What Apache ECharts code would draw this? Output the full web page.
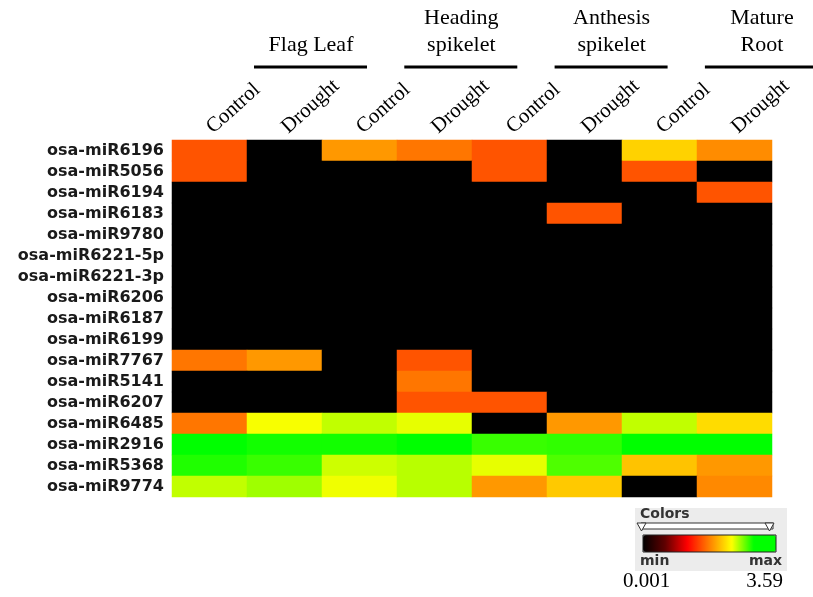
<!DOCTYPE html>
<html>
<head>
<meta charset="utf-8">
<script src="https://cdn.jsdelivr.net/npm/echarts@6/dist/echarts.min.js"></script>
<style>
  html, body { margin: 0; padding: 0; background: #ffffff; }
  #main { width: 813px; height: 597px; }
</style>
</head>
<body>
<div id="main"></div>
<script>
// column labels (two per tissue), tissue groups and row names
const conditions = ["Control", "Drought", "Control", "Drought", "Control", "Drought", "Control", "Drought"];
const tissues = ["Flag Leaf", "Heading\nspikelet", "Anthesis\nspikelet", "Mature\nRoot"];
const mirnas = [
  "osa-miR6196", "osa-miR5056", "osa-miR6194", "osa-miR6183", "osa-miR9780",
  "osa-miR6221-5p", "osa-miR6221-3p", "osa-miR6206", "osa-miR6187", "osa-miR6199",
  "osa-miR7767", "osa-miR5141", "osa-miR6207", "osa-miR6485", "osa-miR2916",
  "osa-miR5368", "osa-miR9774"
];

const minVal = 0.001;
const maxVal = 3.59;
const Z = minVal;

// expression per miRNA, in column order above
const expr = [
  [1.59, Z, 1.91, 1.75, 1.59, Z, 2.18, 1.85],
  [1.59, Z, Z, Z, 1.59, Z, 1.59, Z],
  [Z, Z, Z, Z, Z, Z, Z, 1.59],
  [Z, Z, Z, Z, Z, 1.59, Z, Z],
  [Z, Z, Z, Z, Z, Z, Z, Z],
  [Z, Z, Z, Z, Z, Z, Z, Z],
  [Z, Z, Z, Z, Z, Z, Z, Z],
  [Z, Z, Z, Z, Z, Z, Z, Z],
  [Z, Z, Z, Z, Z, Z, Z, Z],
  [Z, Z, Z, Z, Z, Z, Z, Z],
  [1.75, 1.91, Z, 1.59, Z, Z, Z, Z],
  [Z, Z, Z, 1.75, Z, Z, Z, Z],
  [Z, Z, Z, 1.59, 1.59, Z, Z, Z],
  [1.75, 2.41, 2.54, 2.45, Z, 1.91, 2.54, 2.23],
  [3.0, 2.95, 2.95, 3.3, 2.86, 2.88, 3.3, 3.0],
  [2.92, 2.86, 2.51, 2.56, 2.45, 2.81, 2.11, 1.91],
  [2.54, 2.62, 2.43, 2.56, 1.91, 2.14, Z, 1.84]
];

const scaleColors = ["#000000", "#600000", "#ff0000", "#ff8000", "#ffff00", "#00ff00", "#00ff00"];

const cells = [];
expr.forEach((row, y) => {
  row.forEach((v, x) => cells.push([x, y, v]));
});

const chart = echarts.init(document.getElementById("main"));

// header: tissue names with a bar under each
const header = [];
tissues.forEach((name, i) => {
  const dx = i * 150.3;
  header.push({
    type: "text",
    x: 311 + dx,
    y: 59,
    style: {
      text: name,
      textAlign: "center",
      textVerticalAlign: "bottom",
      font: "22px 'Liberation Serif'",
      lineHeight: 27,
      fill: "#000"
    }
  });
  header.push({
    type: "line",
    shape: { x1: 254 + dx, y1: 67, x2: 367 + dx, y2: 67 },
    style: { stroke: "#000", lineWidth: 3 }
  });
});

// colour key panel
const legendBits = [
  { type: "rect", z: -1, shape: { x: 635, y: 508, width: 152, height: 63 }, style: { fill: "#ececec" } },
  { type: "text", x: 640, y: 507, style: { text: "Colors", font: "bold 14px 'DejaVu Sans'", fill: "#333" } },
  { type: "rect", shape: { x: 641, y: 523, width: 132, height: 6 }, style: { fill: "#fff", stroke: "#333", lineWidth: 1 } },
  { type: "polygon", shape: { points: [[637, 523], [646, 523], [641.5, 531]] }, style: { fill: "#fff", stroke: "#333", lineWidth: 1 } },
  { type: "polygon", shape: { points: [[765, 523], [774, 523], [769.5, 531]] }, style: { fill: "#fff", stroke: "#333", lineWidth: 1 } },
  { type: "rect", z: 100, shape: { x: 643, y: 535, width: 133, height: 17 }, style: { fill: null, stroke: "#222", lineWidth: 1 } },
  { type: "text", x: 640, y: 554, style: { text: "min", font: "bold 14px 'DejaVu Sans'", fill: "#333" } },
  { type: "text", x: 782, y: 554, style: { text: "max", textAlign: "right", font: "bold 14px 'DejaVu Sans'", fill: "#333" } },
  { type: "text", x: 623, y: 571, style: { text: String(minVal), font: "21px 'Liberation Serif'", fill: "#000" } },
  { type: "text", x: 783, y: 571, style: { text: String(maxVal), textAlign: "right", font: "21px 'Liberation Serif'", fill: "#000" } }
];

const option = {
  animation: false,
  grid: { left: 172, top: 140, width: 600, height: 357 },
  xAxis: {
    type: "category",
    position: "top",
    data: conditions,
    axisLine: { show: false },
    axisTick: { show: false },
    splitLine: { show: false },
    axisLabel: {
      rotate: -42,
      interval: 0,
      margin: 10,
      align: "left",
      verticalAlign: "middle",
      fontFamily: "Liberation Serif",
      fontSize: 21,
      color: "#000"
    }
  },
  yAxis: {
    type: "category",
    inverse: true,
    data: mirnas,
    axisLine: { show: false },
    axisTick: { show: false },
    axisLabel: {
      interval: 0,
      margin: 8,
      fontFamily: "DejaVu Sans",
      fontWeight: "bold",
      fontSize: 16,
      color: "#1a1a1a"
    }
  },
  visualMap: {
    type: "continuous",
    min: minVal,
    max: maxVal,
    orient: "horizontal",
    left: 643,
    top: 535,
    itemWidth: 17,
    itemHeight: 133,
    padding: 0,
    calculable: false,
    hoverLink: false,
    inRange: { color: scaleColors }
  },
  graphic: header.concat(legendBits),
  series: [
    {
      type: "heatmap",
      data: cells,
      itemStyle: { borderWidth: 0 },
      emphasis: { disabled: true }
    }
  ]
};

chart.setOption(option);
</script>
</body>
</html>
